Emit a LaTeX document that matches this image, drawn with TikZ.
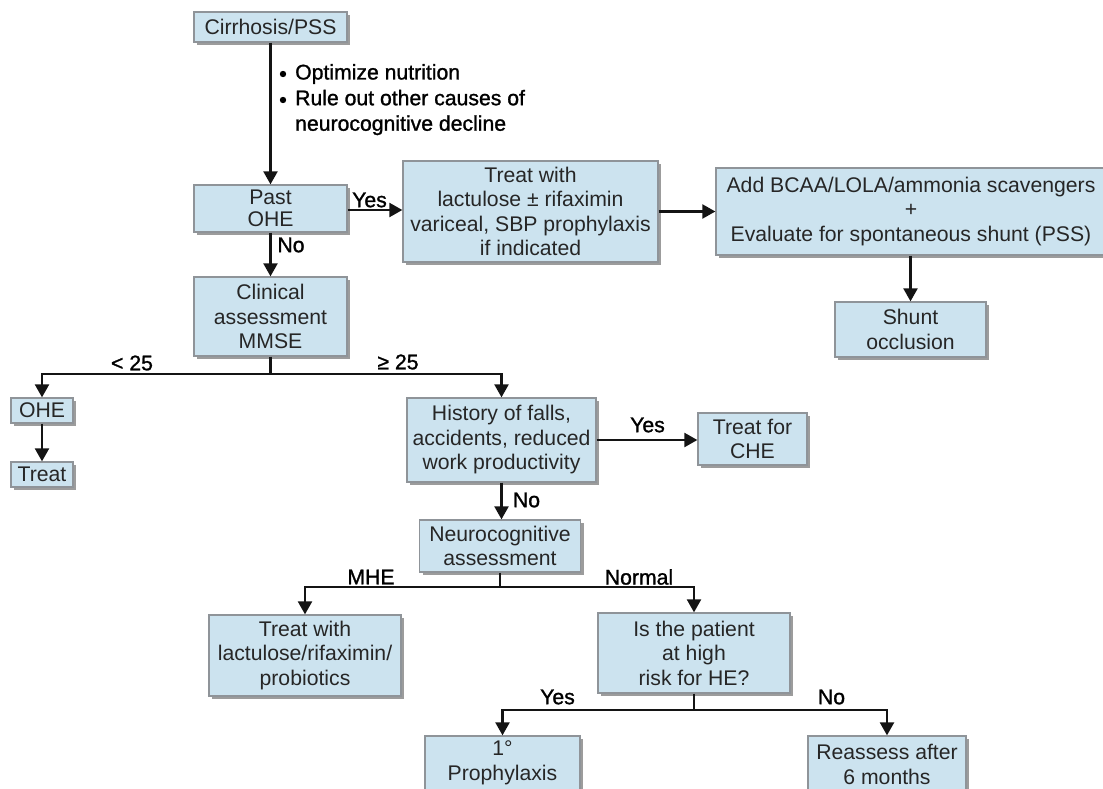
\documentclass[tikz,border=0pt]{standalone}
\usepackage{fontspec}
\setmainfont{Liberation Sans}
\newfontfamily\lblfont[FakeBold=1.2]{Liberation Sans}
\usetikzlibrary{arrows.meta,shadows,calc}
\definecolor{boxblue}{HTML}{CCE3EF}
\definecolor{boxborder}{HTML}{8F9499}
\definecolor{shadowgray}{HTML}{9C9C9C}
\definecolor{txt}{HTML}{262626}
\begin{document}
\begin{tikzpicture}[x=1pt,y=-1pt,
  fbox/.style={draw=boxborder, fill=boxblue, line width=1.3pt, inner sep=0pt, align=center, text=txt,
    font=\fontsize{21.2}{24.5}\selectfont,
    drop shadow={shadow xshift=3pt,shadow yshift=-3pt,fill=shadowgray,opacity=1}},
  conn/.style={line width=2.3pt, draw=black!92},
  arr/.style={conn, -{Triangle[length=13pt,width=14pt]}},
  lbl/.style={font=\lblfont\fontsize{21.2}{25.5}\selectfont, text=black, inner sep=0pt}]
\fill[white] (0,0) rectangle (1103,789);
\clip (0,0) rectangle (1103,789);
\useasboundingbox (0,0) rectangle (1103,789);

% boxes
\node[fbox, minimum width=153pt, minimum height=30pt] (cirr) at (270.5,27) {Cirrhosis/PSS};
\node[fbox, minimum width=153pt, minimum height=47pt, font=\fontsize{21.2}{21.5}\selectfont] (past) at (270.5,208.5) {Past\\OHE};
\node[fbox, minimum width=153pt, minimum height=79pt] (clin) at (270.5,316.5) {Clinical\\assessment\\MMSE};
\node[fbox, minimum width=62pt, minimum height=25pt] (ohe) at (42,410.5) {OHE};
\node[fbox, minimum width=62pt, minimum height=25pt] (treat) at (42,474.5) {Treat};
\node[fbox, minimum width=255pt, minimum height=101pt] (tlr) at (530.5,211.5) {Treat with\\lactulose ± rifaximin\\variceal, SBP prophylaxis\\if indicated};
\node[fbox, minimum width=390pt, minimum height=87pt] (add) at (911,211.5) {Add BCAA/LOLA/ammonia scavengers\\+\\Evaluate for spontaneous shunt (PSS)};
\node[fbox, minimum width=151pt, minimum height=55pt] (shunt) at (910.5,329.5) {Shunt\\occlusion};
\node[fbox, minimum width=189pt, minimum height=84pt] (hist) at (501.5,440) {History of falls,\\accidents, reduced\\work productivity};
\node[fbox, minimum width=109pt, minimum height=52pt] (che) at (752.5,439) {Treat for\\CHE};
\node[fbox, minimum width=161pt, minimum height=52pt] (neuro) at (500,546) {Neurocognitive\\assessment};
\node[fbox, minimum width=192pt, minimum height=81pt] (tlrp) at (305,655.5) {Treat with\\lactulose/rifaximin/\\probiotics};
\node[fbox, minimum width=192pt, minimum height=80pt] (risk) at (694,653) {Is the patient\\at high\\risk for HE?};
\node[fbox, minimum width=155pt, minimum height=54pt] (proph) at (502.5,763) {1°\\Prophylaxis};
\node[fbox, minimum width=158pt, minimum height=57pt] (reas) at (887,764.5) {Reassess after\\6 months};

% bullets
\fill[black] (283,74) circle[radius=3.2pt];
\fill[black] (283,100) circle[radius=3.2pt];
\node[lbl, anchor=west] (b1) at (295,74) {Optimize nutrition};
\node[lbl, anchor=west, align=left] (b2) at (295,112.5) {Rule out other causes of\\neurocognitive decline};

% connectors
\draw[arr] (cirr.south) -- (past.north);
\draw[arr] (past.east |- 0,210) -- (tlr.west |- 0,210);
\draw[arr] (tlr.east) -- (tlr.east -| add.west);
\draw[arr] (shunt.north |- add.south) -- (shunt.north);
\draw[arr] (past.south) -- (clin.north);
\coordinate (c1) at (270.5,374);
\draw[conn] (clin.south) -- (c1);
\draw[arr] (c1) -| (ohe.north);
\draw[arr] (c1) -| (hist.north);
\draw[arr] (ohe.south) -- (treat.north);
\draw[arr] (hist.east) -- (hist.east -| che.west);
\draw[arr] (hist.south) -- (hist.south |- neuro.north);
\coordinate (c2) at (500,587);
\draw[conn] (neuro.south) -- (c2);
\draw[arr] (c2) -| (tlrp.north);
\draw[arr] (c2) -| (risk.north);
\coordinate (c3) at (694,710);
\draw[conn] (risk.south) -- (c3);
\draw[arr] (c3) -| (proph.north);
\draw[arr] (c3) -| (reas.north);

% labels
\node[lbl] (lyes1) at (369.5,200) {Yes};
\node[lbl] (lno1) at (291,245) {No};
\node[lbl] (llt) at (132,363) {< 25};
\node[lbl] (lge) at (398,362) {≥ 25};
\node[lbl] (lyes2) at (647.5,425) {Yes};
\node[lbl] (lno2) at (526.5,500) {No};
\node[lbl] (lmhe) at (371,577) {MHE};
\node[lbl] (lnorm) at (639,577) {Normal};
\node[lbl] (lyes3) at (557.5,697) {Yes};
\node[lbl] (lno3) at (831.5,697) {No};
\end{tikzpicture}
\end{document}
